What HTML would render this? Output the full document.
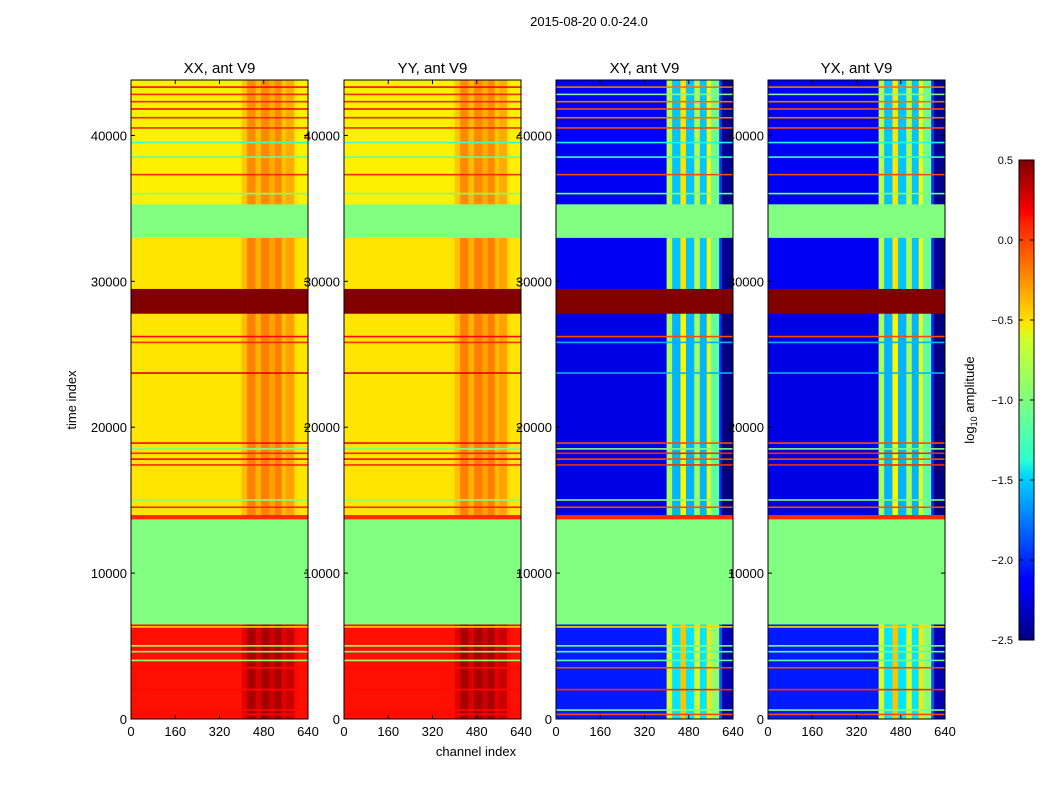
<!DOCTYPE html>
<html><head><meta charset="utf-8"><style>
body{margin:0;background:#fff;font-family:"Liberation Sans",sans-serif}
svg text{font-family:"Liberation Sans",sans-serif}
</style></head><body>
<svg id="chart" width="1050" height="800" xmlns="http://www.w3.org/2000/svg">
<defs><linearGradient id="jet" x1="0" y1="1" x2="0" y2="0">
<stop offset="0" stop-color="#00007f"/><stop offset="0.11" stop-color="#0000ff"/><stop offset="0.125" stop-color="#0000ff"/>
<stop offset="0.34" stop-color="#00d4ff"/><stop offset="0.375" stop-color="#29ffce"/><stop offset="0.5" stop-color="#7fff7f"/>
<stop offset="0.625" stop-color="#ceff29"/><stop offset="0.66" stop-color="#ffe600"/><stop offset="0.875" stop-color="#ff1a00"/>
<stop offset="0.89" stop-color="#ff0000"/><stop offset="1" stop-color="#7f0000"/></linearGradient></defs>
<text x="589" y="26" font-size="13" text-anchor="middle">2015-08-20 0.0-24.0</text>
<text x="476" y="756" font-size="13" text-anchor="middle">channel index</text>
<text x="76" y="400" font-size="13" text-anchor="middle" transform="rotate(-90 76 400)">time index</text>
<g id="panels"></g>
<rect x="1019" y="160" width="15" height="480" fill="url(#jet)" stroke="#000"/>
<g id="cbticks"></g>
<text x="974" y="400" font-size="13" text-anchor="middle" transform="rotate(-90 974 400)">log<tspan font-size="9" dy="3">10</tspan><tspan dy="-3"> amplitude</tspan></text>
</svg>
<script>
const panelTitles = ["XX, ant V9","YY, ant V9","XY, ant V9","YX, ant V9"];
const xTicks = [0,160,320,480,640];
const yTicks = [0,10000,20000,30000,40000];
const cbTicks = [0.5,0.0,-0.5,-1.0,-1.5,-2.0,-2.5];
// time bands [start,end,kind]  kind: 'a' active, 'g' flagged green, 'r' red, 'd' dark red
const bandStart = [0,6500,13700,14000,27800,29500,33000,35300,37200];
const bandEnd   = [6500,13700,14000,27800,29500,33000,35300,37200,43800];
const bandKind  = ['a','g','r','a','d','a','g','a','a'];
// channel blocks
const colStart = [0,400,420,450,470,500,520,545,560,590,600];
const colEnd   = [400,420,450,470,500,520,545,560,590,600,640];
// base values per band for parallel-hand and cross-hand
const parBase = [0.08,-1,0,-0.55,0.6,-0.55,-1,-0.58,-0.58];
const crossBase = [-2.05,-1,0,-2.2,0.6,-2.15,-1,-2.15,-2.15];
// column offsets
const parOff = [0,0.12,0.3,0.15,0.3,0.2,0.3,0.12,0.2,0.03,0.0];
const crossOff = [0,1.3,0.6,1.6,0.6,1.3,0.6,1.5,1.1,0.2,-0.3];
// horizontal lines (time, value)
const lineTimes = [300,600,2000,3500,4000,4600,5000,6300,14500,15000,17400,17800,18200,18500,18900,23700,25800,26200,36000,37300,38500,39500,40500,41200,41800,42300,42800,43300];
const lineValsPar = [0.1,0.1,0.1,0.1,-0.9,-1,-0.9,-0.5,0.0,-1,0.0,0.1,0.0,-1,0.1,0.2,0.0,0.1,-1,0.0,-1.1,-1.2,0.0,0.0,0.1,0.0,0.0,0.1];
const lineValsCross = [-0.1,-1,0.0,-0.1,-1.1,-1.1,-1,-0.5,-0.1,-1,0.0,-0.1,0.0,-1,-0.1,-1.6,-1.6,-0.1,-1,-0.1,-1.2,-1.3,-0.1,-0.2,-0.1,-0.2,-1,-0.2];
const panelX = [131,344,556,768], PW=177, PT=80, PB=719, TMAX=43800;
function jet(v){let t=(v+2.5)/3;t=Math.max(0,Math.min(1,t));
 const c=x=>Math.round(255*Math.max(0,Math.min(1,1.5-Math.abs(4*t-x))));
 return `rgb(${c(3)},${c(2)},${c(1)})`;}
const ys=t=>PB-(t/TMAX)*(PB-PT);
const NS="http://www.w3.org/2000/svg";
const g=document.getElementById('panels');
function mk(tag,attrs,parent){const e=document.createElementNS(NS,tag);for(const k in attrs)e.setAttribute(k,attrs[k]);parent.appendChild(e);return e;}
panelTitles.forEach((title,p)=>{
 const x0=panelX[p], xs=c=>x0+c/640*PW, cross=p>=2;
 const pg=mk('g',{},g);
 
 
 bandStart.forEach((s,b)=>{
  const k=bandKind[b];
  colStart.forEach((cs,c)=>{
   let v=(cross?crossBase:parBase)[b];
   if(k==='a') v+=(cross?crossOff:parOff)[c];
   const r=mk('rect',{x:xs(cs),y:ys(bandEnd[b]),width:xs(colEnd[c])-xs(cs)+0.3,height:ys(s)-ys(bandEnd[b])+0.3,fill:jet(v)},pg);
   
   
  });
 });
 lineTimes.forEach((t,i)=>{
  const inActive=bandStart.some((s,b)=>bandKind[b]==='a'&&t>=s&&t<bandEnd[b]);
  if(!inActive)return;
  const v=(cross?lineValsCross:lineValsPar)[i];
  const r=mk('rect',{x:x0,y:ys(t)-1,width:PW,height:1.6,fill:jet(v)},pg);
  
  
 });
 mk('rect',{x:x0,y:PT,width:PW,height:PB-PT,fill:'none',stroke:'#000','stroke-width':1},pg);
 const tt=mk('text',{x:x0+PW/2,y:73,'font-size':15,'text-anchor':'middle'},pg);tt.textContent=title;
 
 
 xTicks.forEach(v=>{const x=xs(v);mk('line',{x1:x,x2:x,y1:PB,y2:PB-4,stroke:'#000'},pg);mk('line',{x1:x,x2:x,y1:PT,y2:PT+4,stroke:'#000'},pg);
  const t=mk('text',{x:x,y:736,'font-size':13,'text-anchor':'middle'},pg);t.textContent=v;
  
  });
 yTicks.forEach(v=>{const y=ys(v);mk('line',{x1:x0,x2:x0+4,y1:y,y2:y,stroke:'#000'},pg);mk('line',{x1:x0+PW,x2:x0+PW-4,y1:y,y2:y,stroke:'#000'},pg);
  const t=mk('text',{x:x0-4,y:y+5,'font-size':13,'text-anchor':'end'},pg);t.textContent=v;
  
  });
});
const cg=document.getElementById('cbticks');
cbTicks.forEach(v=>{const y=160+(0.5-v)/3*480;
 mk('line',{x1:1034,x2:1030,y1:y,y2:y,stroke:'#000'},cg);
 mk('line',{x1:1019,x2:1023,y1:y,y2:y,stroke:'#000'},cg);
 const t=mk('text',{x:1013,y:y+4,'font-size':11,'text-anchor':'end'},cg);t.textContent=v.toFixed(1).replace('-','\u2212');
 
 });
</script>
</body></html>
